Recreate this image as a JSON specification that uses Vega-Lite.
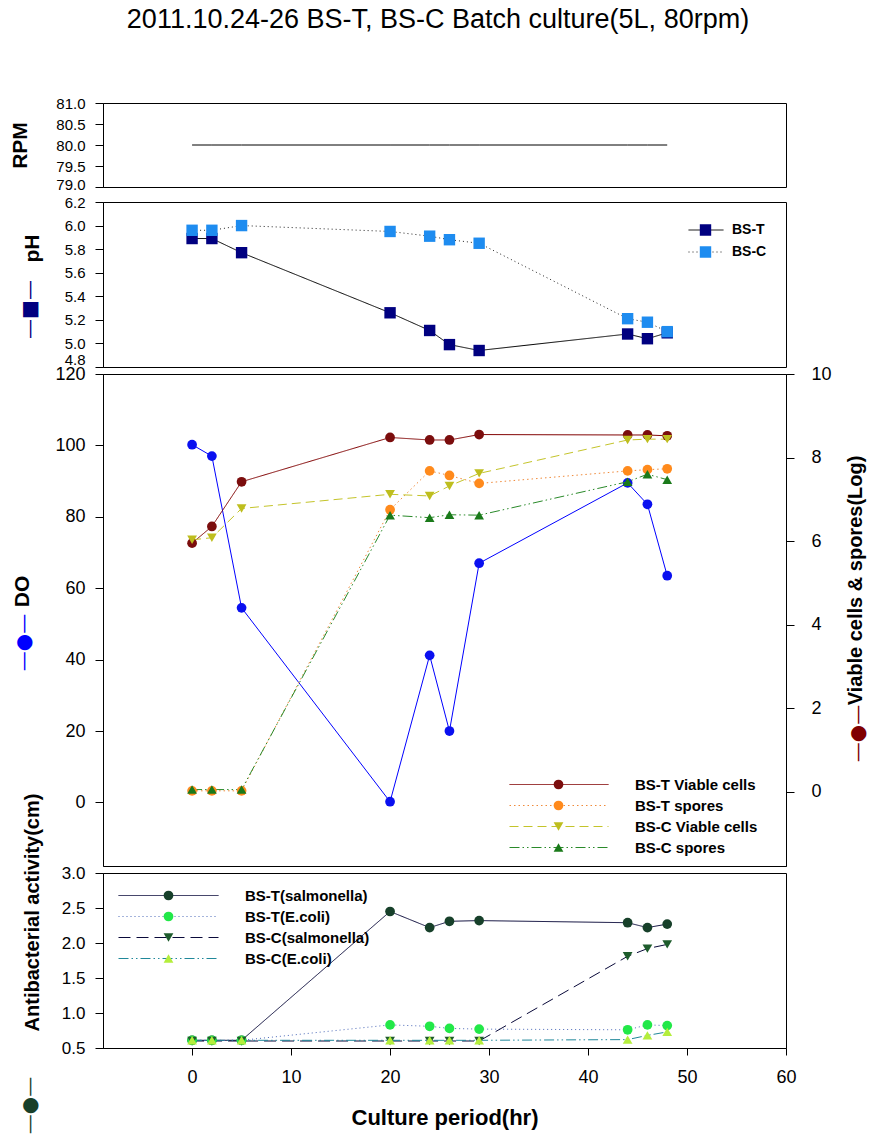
{
  "$schema": "https://vega.github.io/schema/vega-lite/v6.json",
  "padding": {"left": 8, "top": 5, "right": 4, "bottom": 4},
  "title": {"text": "2011.10.24-26 BS-T, BS-C Batch culture(5L, 80rpm)", "font": "Liberation Sans", "fontSize": 27, "fontWeight": "normal", "color": "black", "anchor": "middle", "offset": 62},
  "config": {
    "font": "Liberation Sans",
    "view": {"stroke": "black", "strokeWidth": 1},
    "axis": {"grid": false, "domainColor": "black", "tickColor": "black", "labelColor": "black", "titleColor": "black", "labelFont": "Liberation Sans", "titleFont": "Liberation Sans", "labelFlush": false, "labelOverlap": false},
    "legend": {"labelFont": "Liberation Sans", "labelColor": "black"}
  },
  "datasets": {
    "rpm": [
      {"t": 0, "rpm": 80}, {"t": 2, "rpm": 80}, {"t": 5, "rpm": 80}, {"t": 20, "rpm": 80}, {"t": 24, "rpm": 80},
      {"t": 26, "rpm": 80}, {"t": 29, "rpm": 80}, {"t": 44, "rpm": 80}, {"t": 46, "rpm": 80}, {"t": 48, "rpm": 80}
    ],
    "ph": [
      {"t": 0, "pH": 5.89, "series": "BS-T"}, {"t": 2, "pH": 5.89, "series": "BS-T"}, {"t": 5, "pH": 5.77, "series": "BS-T"},
      {"t": 20, "pH": 5.26, "series": "BS-T"}, {"t": 24, "pH": 5.11, "series": "BS-T"}, {"t": 26, "pH": 4.99, "series": "BS-T"},
      {"t": 29, "pH": 4.94, "series": "BS-T"}, {"t": 44, "pH": 5.08, "series": "BS-T"}, {"t": 46, "pH": 5.04, "series": "BS-T"},
      {"t": 48, "pH": 5.09, "series": "BS-T"},
      {"t": 0, "pH": 5.96, "series": "BS-C"}, {"t": 2, "pH": 5.96, "series": "BS-C"}, {"t": 5, "pH": 6.0, "series": "BS-C"},
      {"t": 20, "pH": 5.95, "series": "BS-C"}, {"t": 24, "pH": 5.91, "series": "BS-C"}, {"t": 26, "pH": 5.88, "series": "BS-C"},
      {"t": 29, "pH": 5.85, "series": "BS-C"}, {"t": 44, "pH": 5.21, "series": "BS-C"}, {"t": 46, "pH": 5.18, "series": "BS-C"},
      {"t": 48, "pH": 5.1, "series": "BS-C"}
    ],
    "do": [
      {"t": 0, "DO": 100.2}, {"t": 2, "DO": 97}, {"t": 5, "DO": 54.5}, {"t": 20, "DO": 0.2}, {"t": 24, "DO": 41.2},
      {"t": 26, "DO": 20}, {"t": 29, "DO": 67}, {"t": 44, "DO": 89.5}, {"t": 46, "DO": 83.5}, {"t": 48, "DO": 63.5}
    ],
    "via": [
      {"t": 0, "v": 5.95, "series": "BS-T Viable cells"}, {"t": 2, "v": 6.35, "series": "BS-T Viable cells"},
      {"t": 5, "v": 7.42, "series": "BS-T Viable cells"}, {"t": 20, "v": 8.48, "series": "BS-T Viable cells"},
      {"t": 24, "v": 8.42, "series": "BS-T Viable cells"}, {"t": 26, "v": 8.42, "series": "BS-T Viable cells"},
      {"t": 29, "v": 8.55, "series": "BS-T Viable cells"}, {"t": 44, "v": 8.54, "series": "BS-T Viable cells"},
      {"t": 46, "v": 8.54, "series": "BS-T Viable cells"}, {"t": 48, "v": 8.52, "series": "BS-T Viable cells"},
      {"t": 0, "v": 0.02, "series": "BS-T spores"}, {"t": 2, "v": 0.02, "series": "BS-T spores"},
      {"t": 5, "v": 0.02, "series": "BS-T spores"}, {"t": 20, "v": 6.75, "series": "BS-T spores"},
      {"t": 24, "v": 7.68, "series": "BS-T spores"}, {"t": 26, "v": 7.57, "series": "BS-T spores"},
      {"t": 29, "v": 7.38, "series": "BS-T spores"}, {"t": 44, "v": 7.68, "series": "BS-T spores"},
      {"t": 46, "v": 7.71, "series": "BS-T spores"}, {"t": 48, "v": 7.73, "series": "BS-T spores"},
      {"t": 0, "v": 6.03, "series": "BS-C Viable cells"}, {"t": 2, "v": 6.08, "series": "BS-C Viable cells"},
      {"t": 5, "v": 6.78, "series": "BS-C Viable cells"}, {"t": 20, "v": 7.12, "series": "BS-C Viable cells"},
      {"t": 24, "v": 7.08, "series": "BS-C Viable cells"}, {"t": 26, "v": 7.32, "series": "BS-C Viable cells"},
      {"t": 29, "v": 7.62, "series": "BS-C Viable cells"}, {"t": 44, "v": 8.42, "series": "BS-C Viable cells"},
      {"t": 46, "v": 8.44, "series": "BS-C Viable cells"}, {"t": 48, "v": 8.44, "series": "BS-C Viable cells"},
      {"t": 0, "v": 0.05, "series": "BS-C spores"}, {"t": 2, "v": 0.05, "series": "BS-C spores"},
      {"t": 5, "v": 0.05, "series": "BS-C spores"}, {"t": 20, "v": 6.62, "series": "BS-C spores"},
      {"t": 24, "v": 6.56, "series": "BS-C spores"}, {"t": 26, "v": 6.63, "series": "BS-C spores"},
      {"t": 29, "v": 6.62, "series": "BS-C spores"}, {"t": 44, "v": 7.42, "series": "BS-C spores"},
      {"t": 46, "v": 7.6, "series": "BS-C spores"}, {"t": 48, "v": 7.47, "series": "BS-C spores"}
    ],
    "anti": [
      {"t": 0, "a": 0.61, "series": "BS-T(salmonella)"}, {"t": 2, "a": 0.61, "series": "BS-T(salmonella)"},
      {"t": 5, "a": 0.61, "series": "BS-T(salmonella)"}, {"t": 20, "a": 2.45, "series": "BS-T(salmonella)"},
      {"t": 24, "a": 2.22, "series": "BS-T(salmonella)"}, {"t": 26, "a": 2.31, "series": "BS-T(salmonella)"},
      {"t": 29, "a": 2.32, "series": "BS-T(salmonella)"}, {"t": 44, "a": 2.29, "series": "BS-T(salmonella)"},
      {"t": 46, "a": 2.22, "series": "BS-T(salmonella)"}, {"t": 48, "a": 2.27, "series": "BS-T(salmonella)"},
      {"t": 0, "a": 0.61, "series": "BS-T(E.coli)"}, {"t": 2, "a": 0.61, "series": "BS-T(E.coli)"},
      {"t": 5, "a": 0.61, "series": "BS-T(E.coli)"}, {"t": 20, "a": 0.83, "series": "BS-T(E.coli)"},
      {"t": 24, "a": 0.81, "series": "BS-T(E.coli)"}, {"t": 26, "a": 0.78, "series": "BS-T(E.coli)"},
      {"t": 29, "a": 0.77, "series": "BS-T(E.coli)"}, {"t": 44, "a": 0.76, "series": "BS-T(E.coli)"},
      {"t": 46, "a": 0.83, "series": "BS-T(E.coli)"}, {"t": 48, "a": 0.82, "series": "BS-T(E.coli)"},
      {"t": 0, "a": 0.6, "series": "BS-C(salmonella)"}, {"t": 2, "a": 0.6, "series": "BS-C(salmonella)"},
      {"t": 5, "a": 0.6, "series": "BS-C(salmonella)"}, {"t": 20, "a": 0.6, "series": "BS-C(salmonella)"},
      {"t": 24, "a": 0.6, "series": "BS-C(salmonella)"}, {"t": 26, "a": 0.6, "series": "BS-C(salmonella)"},
      {"t": 29, "a": 0.6, "series": "BS-C(salmonella)"}, {"t": 44, "a": 1.81, "series": "BS-C(salmonella)"},
      {"t": 46, "a": 1.92, "series": "BS-C(salmonella)"}, {"t": 48, "a": 1.98, "series": "BS-C(salmonella)"},
      {"t": 0, "a": 0.61, "series": "BS-C(E.coli)"}, {"t": 2, "a": 0.61, "series": "BS-C(E.coli)"},
      {"t": 5, "a": 0.61, "series": "BS-C(E.coli)"}, {"t": 20, "a": 0.61, "series": "BS-C(E.coli)"},
      {"t": 24, "a": 0.61, "series": "BS-C(E.coli)"}, {"t": 26, "a": 0.61, "series": "BS-C(E.coli)"},
      {"t": 29, "a": 0.61, "series": "BS-C(E.coli)"}, {"t": 44, "a": 0.62, "series": "BS-C(E.coli)"},
      {"t": 46, "a": 0.68, "series": "BS-C(E.coli)"}, {"t": 48, "a": 0.73, "series": "BS-C(E.coli)"}
    ]
  },
  "bounds": "flush",
  "spacing": 15,
  "resolve": {"scale": {"x": "independent", "y": "independent", "color": "independent", "shape": "independent", "strokeDash": "independent"}, "legend": {"color": "independent", "shape": "independent", "strokeDash": "independent"}},
  "vconcat": [
    {
      "width": 683, "height": 84,
      "data": {"name": "rpm"},
      "mark": {"type": "line", "color": "black", "strokeWidth": 1},
      "encoding": {
        "x": {"field": "t", "type": "quantitative", "scale": {"domain": [-9, 60], "nice": false, "zero": false}, "axis": null},
        "y": {"field": "rpm", "type": "quantitative", "scale": {"domain": [79, 81], "nice": false, "zero": false},
          "axis": {"orient": "left", "values": [79, 79.5, 80, 80.5, 81], "format": ".1f", "labelFontSize": 15, "tickSize": 8, "labelPadding": 10,
            "labelBaseline": {"condition": {"test": "datum.value < 79.01", "value": "alphabetic"}, "value": "middle"},
            "labelOffset": {"condition": {"test": "datum.value < 79.01", "value": 2}, "value": 0},
            "title": "RPM", "titleFontSize": 21, "titleFontWeight": "bold", "titleAngle": 270, "titleBaseline": "middle", "titleAlign": "center", "titleX": -83, "titleY": 42}}
      }
    },
    {
      "bounds": "flush",
      "spacing": 7,
      "resolve": {"scale": {"x": "independent", "y": "independent", "color": "independent", "shape": "independent", "strokeDash": "independent"}, "legend": {"color": "independent", "shape": "independent", "strokeDash": "independent"}},
      "vconcat": [
        {
          "width": 683, "height": 165,
          "data": {"name": "ph"},
          "resolve": {"scale": {"color": "independent", "shape": "independent", "strokeDash": "independent"}, "axis": {"y": "independent"}, "legend": {"color": "independent", "shape": "independent", "strokeDash": "independent"}},
          "layer": [
            {
              "mark": {"type": "line", "strokeWidth": 1},
              "encoding": {
                "x": {"field": "t", "type": "quantitative", "scale": {"domain": [-9, 60], "nice": false, "zero": false}, "axis": null},
                "y": {"field": "pH", "type": "quantitative", "scale": {"domain": [4.8, 6.2], "nice": false, "zero": false},
                  "axis": {"orient": "left", "values": [4.8, 5.0, 5.2, 5.4, 5.6, 5.8, 6.0, 6.2], "format": ".1f", "labelFontSize": 15, "tickSize": 8, "labelPadding": 10,
                    "labelBaseline": {"condition": {"test": "datum.value < 4.81", "value": "alphabetic"}, "value": "middle"},
                    "labelOffset": {"condition": {"test": "datum.value < 4.81", "value": -3}, "value": 0},
                    "title": "pH", "titleFontSize": 21, "titleFontWeight": "bold", "titleAngle": 270, "titleBaseline": "middle", "titleAlign": "center", "titleX": -71, "titleY": 46}},
                "color": {"field": "series", "type": "nominal", "scale": {"domain": ["BS-T", "BS-C"], "range": ["#000000", "#222222"]},
                  "legend": {"orient": "none", "legendX": 585, "legendY": 17, "title": null, "padding": 0, "rowPadding": 0, "clipHeight": 22, "symbolType": "stroke", "symbolSize": 1225, "symbolStrokeWidth": 1, "labelOffset": 8, "labelFontSize": 14, "labelFontWeight": "bold"}},
                "strokeDash": {"field": "series", "type": "nominal", "scale": {"domain": ["BS-T", "BS-C"], "range": [[1, 0], [1, 3]]},
                  "legend": {"orient": "none", "legendX": 585, "legendY": 17, "title": null, "padding": 0, "rowPadding": 0, "clipHeight": 22, "symbolType": "stroke", "symbolSize": 1225, "symbolStrokeWidth": 1, "labelOffset": 8, "labelFontSize": 14, "labelFontWeight": "bold"}}
              }
            },
            {
              "mark": {"type": "point", "filled": true, "size": 130, "opacity": 1},
              "encoding": {
                "x": {"field": "t", "type": "quantitative", "scale": {"domain": [-9, 60], "nice": false, "zero": false}, "axis": null},
                "y": {"field": "pH", "type": "quantitative", "scale": {"domain": [4.8, 6.2], "nice": false, "zero": false},
                  "axis": {"orient": "left", "labels": false, "ticks": false, "domain": false, "title": "—■—", "titleFont": "DejaVu Sans", "titleFontSize": 20, "titleFontWeight": "normal", "titleColor": "#000080", "titleAngle": 270, "titleBaseline": "middle", "titleAlign": "center", "titleX": -74, "titleY": 107}},
                "color": {"field": "series", "type": "nominal", "scale": {"domain": ["BS-T", "BS-C"], "range": ["#000080", "#1e8cf0"]},
                  "legend": {"orient": "none", "legendX": 595.5, "legendY": 17, "title": null, "padding": 0, "rowPadding": 0, "clipHeight": 22, "symbolSize": 130, "symbolStrokeWidth": 0, "labelExpr": "''", "labelFontSize": 14}},
                "shape": {"field": "series", "type": "nominal", "scale": {"domain": ["BS-T", "BS-C"], "range": ["square", "square"]},
                  "legend": {"orient": "none", "legendX": 595.5, "legendY": 17, "title": null, "padding": 0, "rowPadding": 0, "clipHeight": 22, "symbolSize": 130, "symbolStrokeWidth": 0, "labelExpr": "''", "labelFontSize": 14}}
              }
            }
          ]
        },
        {
          "width": 683, "height": 492,
          "resolve": {"scale": {"y": "independent"}, "axis": {"y": "independent"}},
          "layer": [
            {
              "data": {"name": "do"},
              "resolve": {"axis": {"y": "independent"}},
              "layer": [
                {
                  "mark": {"type": "line", "color": "#0000ff", "strokeWidth": 1},
                  "encoding": {
                    "x": {"field": "t", "type": "quantitative", "scale": {"domain": [-9, 60], "nice": false, "zero": false}, "axis": null},
                    "y": {"field": "DO", "type": "quantitative", "scale": {"domain": [-17.8, 120], "nice": false, "zero": false},
                      "axis": {"orient": "left", "values": [0, 20, 40, 60, 80, 100, 120], "labelFontSize": 18, "tickSize": 8, "labelPadding": 10,
                        "title": "DO", "titleFontSize": 21, "titleFontWeight": "bold", "titleAngle": 270, "titleBaseline": "middle", "titleAlign": "center", "titleX": -81, "titleY": 217}}
                  }
                },
                {
                  "mark": {"type": "point", "filled": true, "size": 95, "opacity": 1, "color": "#0a10f0"},
                  "encoding": {
                    "x": {"field": "t", "type": "quantitative", "scale": {"domain": [-9, 60], "nice": false, "zero": false}, "axis": null},
                    "y": {"field": "DO", "type": "quantitative", "scale": {"domain": [-17.8, 120], "nice": false, "zero": false},
                      "axis": {"orient": "left", "labels": false, "ticks": false, "domain": false, "title": "—●—", "titleFont": "DejaVu Sans", "titleFontSize": 20, "titleFontWeight": "normal", "titleColor": "#0000ff", "titleAngle": 270, "titleBaseline": "middle", "titleAlign": "center", "titleX": -80, "titleY": 268}}
                  }
                }
              ]
            },
            {
              "data": {"name": "via"},
              "resolve": {"scale": {"color": "independent", "shape": "independent", "strokeDash": "independent"}, "axis": {"y": "independent"}, "legend": {"color": "independent", "shape": "independent", "strokeDash": "independent"}},
              "layer": [
                {
                  "mark": {"type": "line", "strokeWidth": 1},
                  "encoding": {
                    "x": {"field": "t", "type": "quantitative", "scale": {"domain": [-9, 60], "nice": false, "zero": false}, "axis": null},
                    "y": {"field": "v", "type": "quantitative", "scale": {"domain": [-1.78, 10], "nice": false, "zero": false},
                      "axis": {"orient": "right", "values": [0, 2, 4, 6, 8, 10], "labelFontSize": 18, "tickSize": 8, "labelPadding": 17,
                        "title": "Viable cells & spores(Log)", "titleFontSize": 20, "titleFontWeight": "bold", "titleAngle": 270, "titleBaseline": "middle", "titleAlign": "center", "titleX": 69, "titleY": 206}},
                    "color": {"field": "series", "type": "nominal", "scale": {"domain": ["BS-T Viable cells", "BS-T spores", "BS-C Viable cells", "BS-C spores"], "range": ["#800000", "#f08a3a", "#c4c42a", "#2a8a2a"]},
                      "legend": {"orient": "none", "legendX": 406, "legendY": 400, "title": null, "padding": 0, "rowPadding": 0, "clipHeight": 21, "symbolType": "stroke", "symbolSize": 9801, "symbolStrokeWidth": 1, "labelOffset": 26, "labelFontSize": 15, "labelFontWeight": "bold"}},
                    "strokeDash": {"field": "series", "type": "nominal", "scale": {"domain": ["BS-T Viable cells", "BS-T spores", "BS-C Viable cells", "BS-C spores"], "range": [[1, 0], [1.5, 3], [9, 5], [10, 3, 1.5, 3, 1.5, 3]]},
                      "legend": {"orient": "none", "legendX": 406, "legendY": 400, "title": null, "padding": 0, "rowPadding": 0, "clipHeight": 21, "symbolType": "stroke", "symbolSize": 9801, "symbolStrokeWidth": 1, "labelOffset": 26, "labelFontSize": 15, "labelFontWeight": "bold"}}
                  }
                },
                {
                  "mark": {"type": "point", "filled": true, "size": 95, "opacity": 1},
                  "encoding": {
                    "x": {"field": "t", "type": "quantitative", "scale": {"domain": [-9, 60], "nice": false, "zero": false}, "axis": null},
                    "y": {"field": "v", "type": "quantitative", "scale": {"domain": [-1.78, 10], "nice": false, "zero": false},
                      "axis": {"orient": "right", "labels": false, "ticks": false, "domain": false, "title": "—●—", "titleFont": "DejaVu Sans", "titleFontSize": 20, "titleFontWeight": "normal", "titleColor": "#800000", "titleAngle": 270, "titleBaseline": "middle", "titleAlign": "center", "titleX": 71, "titleY": 359}},
                    "color": {"field": "series", "type": "nominal", "scale": {"domain": ["BS-T Viable cells", "BS-T spores", "BS-C Viable cells", "BS-C spores"], "range": ["#7b0d0d", "#ff8a1c", "#bebe1e", "#1a7a1a"]},
                      "legend": {"orient": "none", "legendX": 448.5, "legendY": 400, "title": null, "padding": 0, "rowPadding": 0, "clipHeight": 21, "symbolSize": 95, "symbolStrokeWidth": 0, "labelExpr": "''", "labelFontSize": 14}},
                    "shape": {"field": "series", "type": "nominal", "scale": {"domain": ["BS-T Viable cells", "BS-T spores", "BS-C Viable cells", "BS-C spores"], "range": ["circle", "circle", "triangle-down", "triangle-up"]},
                      "legend": {"orient": "none", "legendX": 448.5, "legendY": 400, "title": null, "padding": 0, "rowPadding": 0, "clipHeight": 21, "symbolSize": 95, "symbolStrokeWidth": 0, "labelExpr": "''", "labelFontSize": 14}}
                  }
                }
              ]
            }
          ]
        },
        {
          "width": 683, "height": 175,
          "data": {"name": "anti"},
          "resolve": {"scale": {"color": "independent", "shape": "independent", "strokeDash": "independent"}, "axis": {"y": "independent"}, "legend": {"color": "independent", "shape": "independent", "strokeDash": "independent"}},
          "layer": [
            {
              "mark": {"type": "line", "strokeWidth": 1},
              "encoding": {
                "x": {"field": "t", "type": "quantitative", "scale": {"domain": [-9, 60], "nice": false, "zero": false},
                  "axis": {"orient": "bottom", "values": [0, 10, 20, 30, 40, 50, 60], "labelFontSize": 18, "tickSize": 7, "labelPadding": 13,
                    "title": "Culture period(hr)", "titleFontSize": 22, "titleFontWeight": "bold", "titlePadding": 21}},
                "y": {"field": "a", "type": "quantitative", "scale": {"domain": [0.5, 3.0], "nice": false, "zero": false},
                  "axis": {"orient": "left", "values": [0.5, 1.0, 1.5, 2.0, 2.5, 3.0], "format": ".1f", "labelFontSize": 17, "tickSize": 8, "labelPadding": 10,
                    "title": "Antibacterial activity(cm)", "titleFontSize": 20, "titleFontWeight": "bold", "titleAngle": 270, "titleBaseline": "middle", "titleAlign": "center", "titleX": -71, "titleY": 39}},
                "color": {"field": "series", "type": "nominal", "scale": {"domain": ["BS-T(salmonella)", "BS-T(E.coli)", "BS-C(salmonella)", "BS-C(E.coli)"], "range": ["#0a0a3a", "#4a68b8", "#0a0a3a", "#20889a"]},
                  "legend": {"orient": "none", "legendX": 15, "legendY": 12, "title": null, "padding": 0, "rowPadding": 0, "clipHeight": 21, "symbolType": "stroke", "symbolSize": 10000, "symbolStrokeWidth": 1, "labelOffset": 26, "labelFontSize": 15, "labelFontWeight": "bold"}},
                "strokeDash": {"field": "series", "type": "nominal", "scale": {"domain": ["BS-T(salmonella)", "BS-T(E.coli)", "BS-C(salmonella)", "BS-C(E.coli)"], "range": [[1, 0], [1, 3], [12, 6], [10, 3, 1.5, 3, 1.5, 3]]},
                  "legend": {"orient": "none", "legendX": 15, "legendY": 12, "title": null, "padding": 0, "rowPadding": 0, "clipHeight": 21, "symbolType": "stroke", "symbolSize": 10000, "symbolStrokeWidth": 1, "labelOffset": 26, "labelFontSize": 15, "labelFontWeight": "bold"}}
              }
            },
            {
              "mark": {"type": "point", "filled": true, "size": 95, "opacity": 1},
              "encoding": {
                "x": {"field": "t", "type": "quantitative", "scale": {"domain": [-9, 60], "nice": false, "zero": false},
                  "axis": {"orient": "bottom", "values": [0, 10, 20, 30, 40, 50, 60], "labelFontSize": 18, "tickSize": 7, "labelPadding": 13,
                    "title": "Culture period(hr)", "titleFontSize": 22, "titleFontWeight": "bold", "titlePadding": 21}},
                "y": {"field": "a", "type": "quantitative", "scale": {"domain": [0.5, 3.0], "nice": false, "zero": false},
                  "axis": {"orient": "left", "labels": false, "ticks": false, "domain": false, "title": "—●—", "titleFont": "DejaVu Sans", "titleFontSize": 20, "titleFontWeight": "normal", "titleColor": "#17402a", "titleAngle": 270, "titleBaseline": "middle", "titleAlign": "center", "titleX": -74, "titleY": 232}},
                "color": {"field": "series", "type": "nominal", "scale": {"domain": ["BS-T(salmonella)", "BS-T(E.coli)", "BS-C(salmonella)", "BS-C(E.coli)"], "range": ["#17402a", "#22e848", "#1e5c2c", "#b4ee3c"]},
                  "legend": {"orient": "none", "legendX": 58.5, "legendY": 12, "title": null, "padding": 0, "rowPadding": 0, "clipHeight": 21, "symbolSize": 95, "symbolStrokeWidth": 0, "labelExpr": "''", "labelFontSize": 14}},
                "shape": {"field": "series", "type": "nominal", "scale": {"domain": ["BS-T(salmonella)", "BS-T(E.coli)", "BS-C(salmonella)", "BS-C(E.coli)"], "range": ["circle", "circle", "triangle-down", "triangle-up"]},
                  "legend": {"orient": "none", "legendX": 58.5, "legendY": 12, "title": null, "padding": 0, "rowPadding": 0, "clipHeight": 21, "symbolSize": 95, "symbolStrokeWidth": 0, "labelExpr": "''", "labelFontSize": 14}}
              }
            }
          ]
        }
      ]
    }
  ]
}
